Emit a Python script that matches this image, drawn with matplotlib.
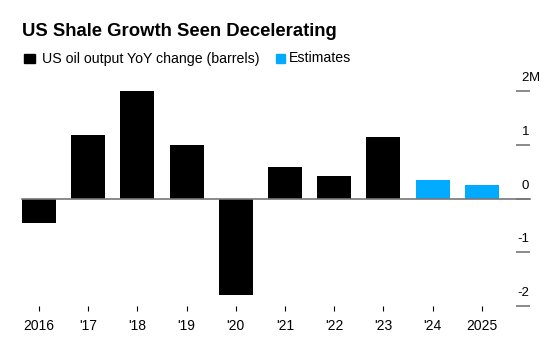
import matplotlib.pyplot as plt
import matplotlib.transforms as mtransforms
from matplotlib.patches import Rectangle

plt.rcParams['font.family'] = ['Liberation Sans', 'DejaVu Sans']

years = ["2016", "'17", "'18", "'19", "'20", "'21", "'22", "'23", "'24", "2025"]
change = [-0.46, 1.18, 2.0, 1.0, -1.8, 0.59, 0.42, 1.14, 0.34, 0.25]
is_estimate = [False] * 8 + [True] * 2
yticks = [2, 1, 0, -1, -2]
ytick_labels = ["2M", "1", "0", "-1", "-2"]

black = "#000000"
blue = "#00aaff"
grey = "#777777"

fig = plt.figure(figsize=(5.59, 3.51), dpi=100)
ax = fig.add_axes([22 / 559, 1 - 306 / 351, 494 / 559, 215 / 351])

x = list(range(len(years)))
colors = [blue if e else black for e in is_estimate]
ax.bar(x, change, width=0.69, color=colors, zorder=2)
ax.axhline(0, xmin=0, xmax=1.028, color=grey, lw=1.2, clip_on=False, zorder=3)

ax.set_xlim(-0.3455, 9.695)
ax.set_ylim(-2, 2)

for s in ax.spines.values():
    s.set_visible(False)

ax.set_xticks(x)
ax.set_xticklabels(years, fontsize=10)
ax.tick_params(axis='x', length=3.5, width=0.8, color=black, pad=5.5)

ax.yaxis.tick_right()
ax.set_yticks(yticks)
ax.set_yticklabels([])
ax.tick_params(axis='y', length=10, width=1.2, color=grey, direction='out', pad=0)

trans = mtransforms.blended_transform_factory(ax.transAxes, ax.transData)
shift = mtransforms.ScaledTranslation(0, 5 / 72, fig.dpi_scale_trans)
for v, lab in zip(yticks, ytick_labels):
    num = lab.rstrip("M")
    ax.text(1.0265, v, num, transform=trans + shift, ha='right', va='bottom',
            fontsize=9.5, color=black)
    if lab.endswith("M"):
        ax.text(1.0265, v, "M", transform=trans + shift, ha='left', va='bottom',
                fontsize=9.5, color=black)

fig.text(22 / 559, 1 - 31 / 351, "US Shale Growth Seen Decelerating",
         fontsize=13.3, fontweight='bold', ha='left', va='center')

fig.patches.append(Rectangle((24 / 559, 1 - 63 / 351), 11 / 559, 9 / 351,
                             transform=fig.transFigure, color=black))
fig.text(42 / 559, 1 - 58.5 / 351, "US oil output YoY change (barrels)",
         fontsize=10.2, ha='left', va='center')
fig.patches.append(Rectangle((276 / 559, 1 - 63 / 351), 9 / 559, 9 / 351,
                             transform=fig.transFigure, color=blue))
fig.text(289 / 559, 1 - 58.5 / 351, "Estimates",
         fontsize=10.2, ha='left', va='center')

fig.savefig("out.png", dpi=100)
